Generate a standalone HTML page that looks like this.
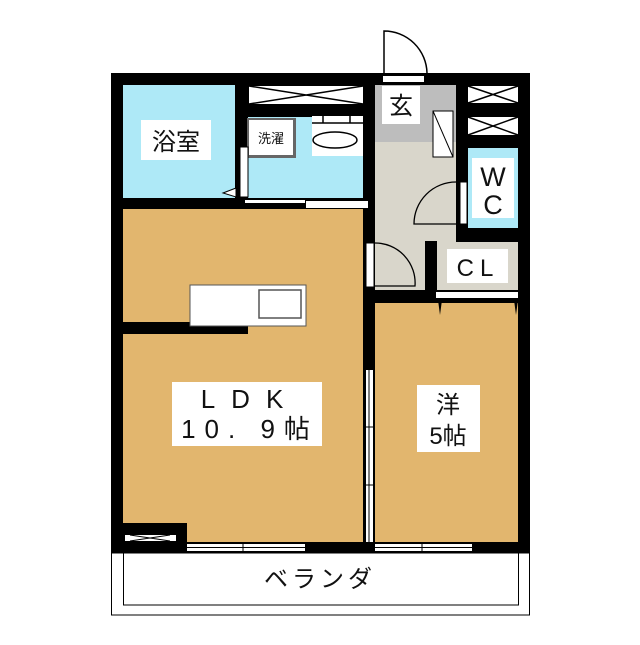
<!DOCTYPE html>
<html><head><meta charset="utf-8"><style>
body{margin:0;background:#fff}
svg text{font-family:"Liberation Sans","Noto Sans CJK JP",sans-serif;fill:#111}
</style></head><body>
<svg width="640" height="640" viewBox="0 0 640 640" xmlns="http://www.w3.org/2000/svg">
<rect width="640" height="640" fill="#fff"/>
<rect x="111" y="73" width="419" height="480" fill="#000"/>
<rect x="123" y="85" width="112" height="113" fill="#aee9f7"/>
<rect x="249" y="86" width="114" height="18" fill="#fff"/>
<path d="M249 86L363 104M249 104L363 86" stroke="#000" stroke-width="1.5"/>
<rect x="248" y="117" width="115" height="81" fill="#aee9f7"/>
<rect x="247" y="118" width="49" height="40" fill="#666"/>
<rect x="249" y="120" width="44" height="35" fill="#fff"/>
<text x="271" y="143" font-size="13" text-anchor="middle">洗濯</text>
<rect x="312" y="116" width="51" height="40" fill="#fff"/>
<path d="M312 123H363M323 116V123M350 116V123" stroke="#000" stroke-width="1.5"/>
<ellipse cx="335" cy="140" rx="22" ry="8" fill="#fff" stroke="#000" stroke-width="1.5"/>
<rect x="240" y="147" width="8" height="50" fill="#fff" stroke="#000"/>
<path d="M223 193L236 188V197Z" fill="#fff" stroke="#000"/>
<rect x="245" y="200" width="60" height="3" fill="#fff"/>
<rect x="306" y="201" width="62" height="7" fill="#fff"/>
<rect x="141" y="120" width="70" height="40" fill="#fff"/>
<text x="176" y="150" font-size="24" text-anchor="middle">浴室</text>
<rect x="123" y="209" width="240" height="333" fill="#e2b66e"/>
<rect x="111" y="322" width="137" height="12" fill="#000"/>
<rect x="190" y="285" width="116" height="41" fill="#fff" stroke="#555"/>
<rect x="259" y="290" width="42" height="28" fill="#fff" stroke="#555" stroke-width="1.5"/>
<rect x="111" y="523" width="76" height="30" fill="#000"/>
<rect x="125" y="535" width="51" height="6" fill="#fff"/>
<path d="M130 535L170 541M130 541L170 535" stroke="#000"/>
<rect x="172" y="382" width="150" height="64" fill="#fff"/>
<text x="250" y="408" font-size="26" text-anchor="middle" letter-spacing="16">LDK</text>
<text x="250" y="438" font-size="26" text-anchor="middle" letter-spacing="9">10. 9帖</text>
<rect x="375" y="85" width="81" height="205" fill="#d9d6cb"/>
<rect x="375" y="85" width="81" height="57" fill="#bdbdbd"/>
<rect x="382" y="86" width="38" height="38" fill="#fff"/>
<text x="401" y="114" font-size="24" text-anchor="middle">玄</text>
<rect x="433" y="111" width="20" height="46" fill="#fff" stroke="#000"/>
<path d="M433 111L453 157" stroke="#000"/>
<rect x="375" y="241" width="62" height="52" fill="#000"/>
<rect x="375" y="241" width="50" height="49" fill="#d9d6cb"/>
<rect x="366" y="243" width="8" height="44" fill="#fff" stroke="#000"/>
<path d="M375 243A40 40 0 0 1 415 286H375" fill="none" stroke="#000" stroke-width="1.3"/>
<path d="M456 182A42 42 0 0 0 414 224H456" fill="none" stroke="#000" stroke-width="1.3"/>
<rect x="460" y="182" width="7" height="42" fill="#fff" stroke="#000"/>
<rect x="383" y="76" width="41" height="6" fill="#fff"/>
<path d="M384 73V31A43 43 0 0 1 427 73" fill="none" stroke="#000" stroke-width="1.5"/>
<rect x="468" y="86" width="50" height="17" fill="#fff"/>
<path d="M468 86L518 103M468 103L518 86" stroke="#000" stroke-width="1.5"/>
<rect x="468" y="117" width="50" height="18" fill="#fff"/>
<path d="M468 117L518 135M468 135L518 117" stroke="#000" stroke-width="1.5"/>
<rect x="468" y="148" width="50" height="80" fill="#aee9f7"/>
<rect x="472" y="158" width="42" height="60" fill="#fff"/>
<text x="493" y="186" font-size="27" text-anchor="middle">W</text>
<text x="493" y="214" font-size="27" text-anchor="middle">C</text>
<rect x="437" y="242" width="81" height="48" fill="#d9d6cb"/>
<rect x="447" y="249" width="61" height="34" fill="#fff"/>
<text x="478" y="276" font-size="24" text-anchor="middle" letter-spacing="6">CL</text>
<rect x="375" y="303" width="143" height="239" fill="#e2b66e"/>
<rect x="436" y="292" width="82" height="6" fill="#fff"/>
<path d="M438 300L440 315L442 300M514 300L516 315L518 300" fill="#000"/>
<rect x="417" y="385" width="63" height="67" fill="#fff"/>
<text x="448" y="413" font-size="24" text-anchor="middle">洋</text>
<text x="448" y="444" font-size="24" text-anchor="middle">5帖</text>
<rect x="366" y="370" width="7" height="172" fill="#fff"/>
<path d="M369 370V542" stroke="#000"/>
<path d="M363 427H375M363 485H375" stroke="#000"/>
<rect x="187" y="544" width="118" height="7" fill="#fff"/>
<path d="M187 547.5H305M243 544V551" stroke="#000"/>
<rect x="375" y="544" width="97" height="7" fill="#fff"/>
<path d="M375 547.5H472M422 544V551" stroke="#000"/>
<rect x="111.5" y="553" width="418" height="62" fill="#fff" stroke="#000"/>
<rect x="123.5" y="553" width="395" height="52" fill="#fff" stroke="#000"/>
<text x="320" y="587" font-size="24" text-anchor="middle" letter-spacing="4">ベランダ</text>
</svg>
</body></html>
